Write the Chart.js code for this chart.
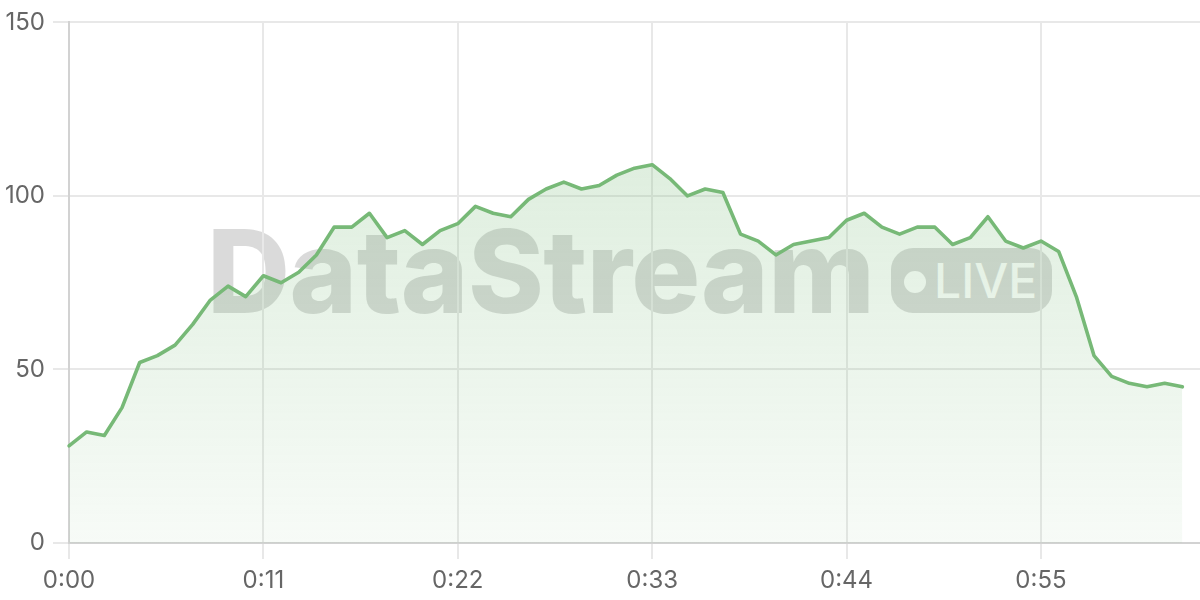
<!DOCTYPE html>
<html>
<head>
<meta charset="utf-8">
<script src="https://cdn.jsdelivr.net/npm/chart.js@4.4.0/dist/chart.umd.min.js"></script>
<style>
html,body{margin:0;padding:0;background:#fff;}
#wrap{position:relative;width:1200px;height:600px;overflow:hidden;}
#wm{position:absolute;left:0;top:0;width:1200px;height:600px;opacity:0.16;pointer-events:none;}
#wmText{position:absolute;left:207px;top:214px;font-family:Inter,sans-serif;font-weight:800;font-size:115px;line-height:115px;color:#222;letter-spacing:-0.5px;white-space:nowrap;}
#pill{position:absolute;left:891px;top:248px;width:161px;height:65px;border-radius:22px;background:#222;}
#dot{position:absolute;left:904px;top:271px;width:22px;height:22px;border-radius:50%;background:#fff;}
#live{position:absolute;left:934px;top:257px;font-family:Inter,sans-serif;font-weight:500;font-size:48px;line-height:48px;color:#fff;white-space:nowrap;}
#c{position:absolute;left:0;top:0;}
</style>
</head>
<body>
<div id="wrap">
  <div id="wm">
    <div id="wmText">DataStream</div>
    <div id="pill"></div>
    <div id="dot"></div>
    <div id="live">LIVE</div>
  </div>
  <canvas id="c" width="1200" height="600"></canvas>
</div>
<script>
const timeLabels = [
  "0:00","0:01","0:02","0:03","0:04","0:05","0:06","0:07","0:08","0:09",
  "0:10","0:11","0:12","0:13","0:14","0:15","0:16","0:17","0:18","0:19",
  "0:20","0:21","0:22","0:23","0:24","0:25","0:26","0:27","0:28","0:29",
  "0:30","0:31","0:32","0:33","0:34","0:35","0:36","0:37","0:38","0:39",
  "0:40","0:41","0:42","0:43","0:44","0:45","0:46","0:47","0:48","0:49",
  "0:50","0:51","0:52","0:53","0:54","0:55","0:56","0:57","0:58","0:59",
  "1:00","1:01","1:02","1:03","1:04"
];
const streamValues = [
  28,32,31,39,52,54,57,63,70,74,
  71,77,75,78,83,91,91,95,88,90,
  86,90,92,97,95,94,99,102,104,102,
  103,106,108,109,105,100,102,101,89,87,
  83,86,87,88,93,95,91,89,91,91,
  86,88,94,87,85,87,84,71,54,48,
  46,45,46,45
];
const labelEvery = 11;
const yTicks = [0, 50, 100, 150];

const lineColor = '#77b977';
const gridColor = '#e8e8e8';
const borderColor = '#d2d2d2';
const tickFont = { family: 'Inter, sans-serif', size: 24 };

new Chart(document.getElementById('c'), {
  type: 'line',
  data: {
    labels: timeLabels,
    datasets: [{
      data: streamValues,
      borderColor: lineColor,
      borderWidth: 3.6,
      borderJoinStyle: 'round',
      borderCapStyle: 'round',
      pointRadius: 0,
      tension: 0,
      fill: 'origin',
      backgroundColor: (ctx) => {
        const chart = ctx.chart;
        const area = chart.chartArea;
        if (!area) return 'rgba(119,185,119,0.15)';
        const g = chart.ctx.createLinearGradient(0, area.top, 0, area.bottom);
        g.addColorStop(0, 'rgba(119,185,119,0.30)');
        g.addColorStop(1, 'rgba(119,185,119,0.06)');
        return g;
      }
    }]
  },
  options: {
    responsive: false,
    animation: false,
    devicePixelRatio: 1,
    layout: { padding: { top: 20, left: 0, right: 0, bottom: 0 } },
    plugins: { legend: { display: false }, tooltip: { enabled: false } },
    scales: {
      x: {
        type: 'category',
        grid: {
          color: (ctx) => (ctx.index % labelEvery === 0 && ctx.index < streamValues.length) ? gridColor : 'rgba(0,0,0,0)',
          lineWidth: 2,
          tickLength: 16,
          drawTicks: true
        },
        border: { display: true, color: borderColor, width: 2 },
        ticks: {
          autoSkip: false,
          maxRotation: 0,
          minRotation: 0,
          padding: 7,
          color: '#666',
          font: tickFont,
          callback: function(value, index) {
            return (index % labelEvery === 0 && index < streamValues.length) ? timeLabels[index] : '';
          }
        },
        afterFit: (scale) => { scale.height = 57; scale.paddingRight = 0; }
      },
      y: {
        min: yTicks[0],
        max: yTicks[yTicks.length - 1],
        afterBuildTicks: (scale) => { scale.ticks = yTicks.map(v => ({ value: v })); },
        grid: { color: gridColor, lineWidth: 2, tickLength: 16 },
        border: { display: true, color: borderColor, width: 2 },
        ticks: { padding: 8, color: '#666', font: tickFont },
        afterFit: (scale) => { scale.width = 69; }
      }
    }
  }
});
</script>
</body>
</html>
